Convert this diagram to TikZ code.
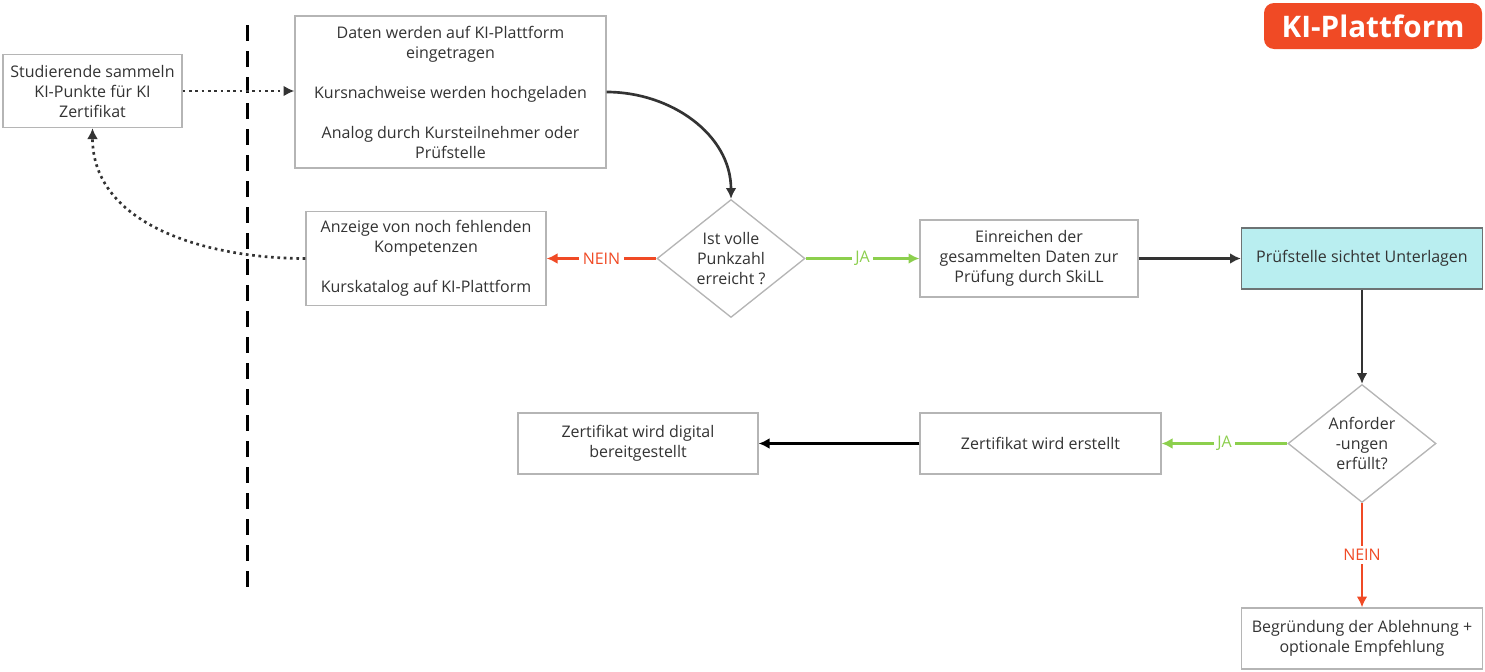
\documentclass[tikz,border=0pt]{standalone}
\usepackage{fontspec}
\setmainfont{Open Sans}
\usetikzlibrary{shapes.geometric,arrows.meta}
\definecolor{rot}{HTML}{F04A25}
\definecolor{gruen}{HTML}{8CCF4D}
\definecolor{dunkel}{HTML}{333333}
\definecolor{rahmen}{HTML}{B5B5B5}
\definecolor{tuerkis}{HTML}{B9EEF0}
\tikzset{
	kasten/.style={draw=rahmen, line width=0.8pt, fill=white, align=center,
		text=dunkel, inner sep=2pt, font=\fontsize{9.6}{12}\selectfont},
	raute/.style={kasten, shape=diamond, aspect=1.25, minimum width=88.8pt,
		minimum height=70.8pt, inner sep=0pt},
	pfeil/.style={line width=1.6pt, draw=dunkel, -{Latex[length=6.5pt,width=6.5pt]}},
	punktiert/.style={dash pattern=on 1.6pt off 2.2pt},
	beschriftung/.style={fill=white, inner sep=2pt, font=\fontsize{9.6}{11}\selectfont}
}
\begin{document}
\begin{tikzpicture}[x=0.6pt, y=-0.6pt]
	\useasboundingbox (0,0) rectangle (1485,671);
	% Trennlinie
	\draw[line width=1.8pt, dash pattern=on 9.6pt off 6pt] (247,25) -- (247,590);
	% Titel
	\node[fill=rot, rounded corners=6pt, minimum width=130.8pt, minimum height=27.6pt,
		text=white, font=\fontsize{17.8}{20}\selectfont\bfseries] (titel) at (1373,26) {KI-Plattform};
	% Kaesten
	\node[kasten, minimum width=107.4pt, minimum height=43.8pt] (studierende) at (92.5,91)
		{Studierende sammeln\\KI-Punkte für KI\\Zertifikat};
	\node[kasten, minimum width=186.6pt, minimum height=91.2pt] (daten) at (450.5,92)
		{Daten werden auf KI-Plattform\\eingetragen\\[12pt]Kursnachweise werden hochgeladen\\[12pt]Analog durch Kursteilnehmer oder\\Prüfstelle};
	\node[kasten, minimum width=144pt, minimum height=56.4pt] (anzeige) at (426,258.5)
		{Anzeige von noch fehlenden\\Kompetenzen\\[12pt]Kurskatalog auf KI-Plattform};
	\node[raute] (punkte) at (731,258.5) {Ist volle\\Punkzahl\\erreicht ?};
	\node[kasten, minimum width=130.8pt, minimum height=46.2pt] (einreichen) at (1029,258.5)
		{Einreichen der\\gesammelten Daten zur\\Prüfung durch SkiLL};
	\node[kasten, fill=tuerkis, draw=rahmen!80!tuerkis!60!black, minimum width=144.6pt,
		minimum height=36.6pt] (sichten) at (1362,258.5) {Prüfstelle sichtet Unterlagen};
	\node[raute] (anforderungen) at (1362,443.5) {Anforder\\-ungen\\erfüllt?};
	\node[kasten, minimum width=144.6pt, minimum height=36.6pt] (erstellt) at (1040.5,443.5)
		{Zertifikat wird erstellt};
	\node[kasten, minimum width=144pt, minimum height=36.6pt] (digital) at (638,443.5)
		{Zertifikat wird digital\\bereitgestellt};
	\node[kasten, minimum width=144.6pt, minimum height=36.6pt] (begruendung) at (1362,638.5)
		{Begründung der Ablehnung +\\optionale Empfehlung};
	% Verbindungen
	\draw[pfeil, punktiert] (studierende) -- (daten.west |- studierende);
	\draw[pfeil] (daten.east) to[out=0, in=90] (punkte.north);
	\draw[pfeil, punktiert] (anzeige.west) to[out=180, in=-90] (studierende.south);
	\draw[pfeil, draw=rot, -{Latex[length=6.5pt,width=6.5pt,color=rot]}] (punkte.west) --
		node[beschriftung, text=rot] {NEIN} (anzeige.east);
	\draw[pfeil, draw=gruen, -{Latex[length=6.5pt,width=6.5pt,color=gruen]}] (punkte.east) --
		node[beschriftung, text=gruen] {JA} (einreichen.west);
	\draw[pfeil] (einreichen) -- (sichten);
	\draw[pfeil] (sichten) -- (anforderungen);
	\draw[pfeil, draw=gruen, -{Latex[length=6.5pt,width=6.5pt,color=gruen]}] (anforderungen.west) --
		node[beschriftung, text=gruen] {JA} (erstellt.east);
	\draw[pfeil, draw=black] (erstellt) -- (digital);
	\draw[pfeil, draw=rot, -{Latex[length=6.5pt,width=6.5pt,color=rot]}] (anforderungen.south) --
		node[beschriftung, text=rot] {NEIN} (begruendung.north);
\end{tikzpicture}
\end{document}
